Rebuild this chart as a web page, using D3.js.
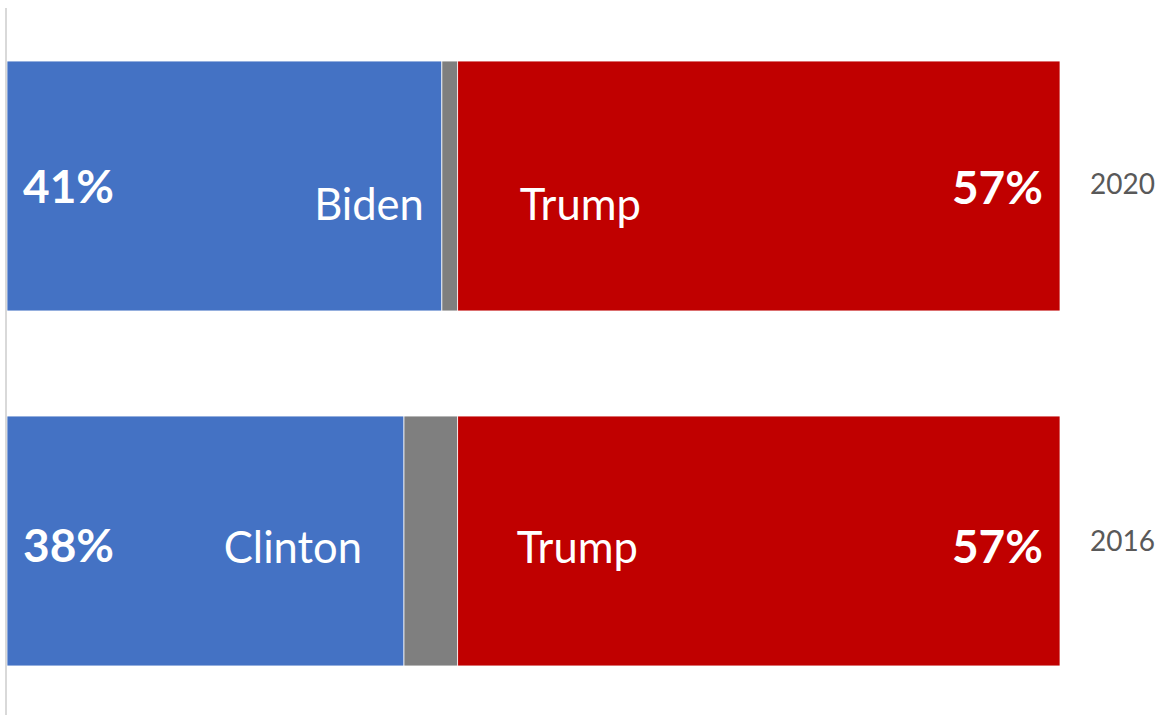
<!DOCTYPE html>
<meta charset="utf-8">
<head>
    <script src="https://d3js.org/d3.v7.min.js"></script>
    <style>
        body { margin: 0; background: #fff; }
        text { font-family: Lato, 'Open Sans', sans-serif; }
    </style>
</head>
<body>
    <div id="chart"></div>
    <script>

    // data
    var years = ["2020", "2016"]
    var dem = [41.3, 37.7]
    var other = [1.5, 5.1]
    var rep = [57.2, 57.2]
    var demNames = ["Biden", "Clinton"]
    var repNames = ["Trump", "Trump"]
    var demPct = ["41%", "38%"]
    var repPct = ["57%", "57%"]

    var width = 1162,
        height = 715

    var svg = d3.select("#chart")
                .append("svg")
                .attr("width", width)
                .attr("height", height)

    var x = d3.scaleLinear()
              .domain([0, 100])
              .range([7, 1060])

    var y = d3.scaleBand()
              .domain(years)
              .range([8.5, 718.5])
              .paddingInner(0.296)
              .paddingOuter(0.148)

    var color = d3.scaleOrdinal()
                  .domain(["dem", "other", "rep"])
                  .range(["#4472C4", "#7F7F7F", "#C00000"])

    // build stacked rows from the arrays
    var rows = years.map(function(yr, i) {
        return { year: yr, dem: dem[i], other: other[i], rep: rep[i] }
    })
    var stacked = d3.stack().keys(["dem", "other", "rep"])(rows)

    svg.selectAll("g.series")
        .data(stacked)
        .enter()
        .append("g")
        .attr("class", "series")
        .attr("fill", function(d) { return color(d.key) })
        .selectAll("rect")
        .data(function(d) { return d })
        .enter()
        .append("rect")
        .attr("x", function(d) { return x(d[0]) })
        .attr("width", function(d) { return x(d[1]) - x(d[0]) })
        .attr("y", function(d) { return y(d.data.year) })
        .attr("height", y.bandwidth())
        .attr("stroke", "white")
        .attr("stroke-width", 0.75)

    // vertical axis line on the left
    svg.append("line")
        .attr("x1", 6).attr("x2", 6)
        .attr("y1", 8).attr("y2", height)
        .attr("stroke", "#d9d9d9")
        .attr("stroke-width", 2)

    // category labels on the right
    var axis = svg.append("g")
        .attr("transform", "translate(1086,0)")
        .call(d3.axisRight(y).tickSize(0).tickPadding(4))
    axis.select(".domain").remove()
    axis.selectAll("text")
        .attr("fill", "#595959")
        .style("font-size", "28px")
        .style("font-family", "Lato, 'Open Sans', sans-serif")
        .attr("dy", function(d, i) { return i == 0 ? "0.3em" : "0.35em" })

    // percentages (bold)
    var pctDy = [18, 22]
    years.forEach(function(yr, i) {
        var cy = y(yr) + y.bandwidth() / 2
        svg.append("text")
            .attr("x", x(0) + 16)
            .attr("y", cy + pctDy[i] - 1)
            .attr("fill", "white")
            .style("font-size", "46px")
            .style("font-weight", "bold")
            .text(demPct[i])
        svg.append("text")
            .attr("x", x(100) - 17)
            .attr("y", cy + pctDy[i])
            .attr("text-anchor", "end")
            .attr("fill", "white")
            .style("font-size", "46px")
            .style("font-weight", "bold")
            .text(repPct[i])
    })

    // candidate names, nudged as in the original
    var nameDy = [34, 22]
    var demGap = [18, 42]
    var repGap = [62, 59]
    years.forEach(function(yr, i) {
        var cy = y(yr) + y.bandwidth() / 2
        svg.append("text")
            .attr("x", x(dem[i]) - demGap[i])
            .attr("y", cy + nameDy[i])
            .attr("text-anchor", "end")
            .attr("fill", "white")
            .style("font-size", "43.5px")
            .text(demNames[i])
        svg.append("text")
            .attr("x", x(dem[i] + other[i]) + repGap[i])
            .attr("y", cy + nameDy[i])
            .attr("fill", "white")
            .style("font-size", "43.5px")
            .text(repNames[i])
    })
    </script>
</body>
